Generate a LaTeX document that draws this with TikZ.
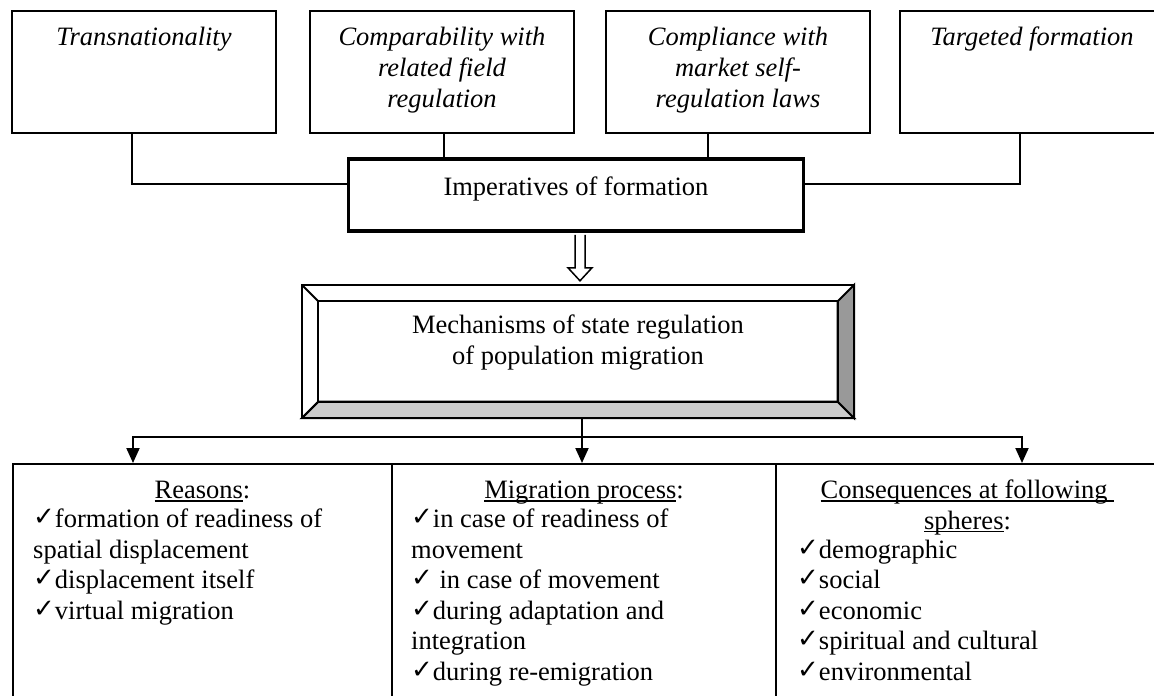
\documentclass[tikz,border=0pt]{standalone}
\usepackage{fontspec}
\setmainfont{Liberation Serif}
\newfontfamily\symfont{DejaVu Sans}
\usetikzlibrary{arrows.meta,calc}

% check mark bullet
\newcommand\chk{{\symfont\fontsize{26}{26}\selectfont\raisebox{2pt}{✓}}}
% underline set at a fixed depth below the baseline
\newsavebox\ulbox
\newcommand\undl[1]{\sbox\ulbox{#1}\rlap{\rule[-3.2pt]{\wd\ulbox}{1.5pt}}\usebox\ulbox}

\begin{document}
\begin{tikzpicture}[x=1pt,y=-1pt,
  topbox/.style={draw, line width=1.8pt, minimum width=264pt, minimum height=121.5pt, inner sep=0pt},
  toptext/.style={font=\fontsize{26.5}{31}\selectfont\itshape, align=center, anchor=north, inner sep=0pt},
  impbox/.style={draw, line width=3.5pt, minimum width=455pt, minimum height=72pt, inner sep=0pt,
    font=\fontsize{26.5}{31}\selectfont, text height=12pt, text depth=12pt},
  midtext/.style={font=\fontsize{26.5}{31}\selectfont, align=center, anchor=north, inner sep=0pt},
  colbox/.style={draw, line width=2pt, minimum height=237pt, anchor=north west, inner sep=0pt},
  headtext/.style={font=\fontsize{26.5}{30.5}\selectfont, align=center, anchor=north, inner sep=0pt},
  listtext/.style={font=\fontsize{26.5}{30.5}\selectfont, align=left, anchor=north west, inner sep=0pt},
  link/.style={line width=1.8pt},
  arr/.style={line width=2pt, -{Triangle[width=13pt,length=15pt]}},
  bevel/.style={line width=2pt, line join=miter}
]
\useasboundingbox (0,0) rectangle (1154,696);
\fill[white] (0,0) rectangle (1154,696);
\clip (0,0) rectangle (1154,696);

% upper row of principles
\node[topbox] (t1) at (144,72) {};
\node[topbox] (t2) at (442,72) {};
\node[topbox] (t3) at (738,72) {};
\node[topbox] (t4) at (1032,72) {};
\node[toptext] (t1txt) at ($(t1.north)+(0,13.6)$) {\strut Transnationality};
\node[toptext] (t2txt) at ($(t2.north)+(0,13.6)$) {\strut Comparability with\\related field\\regulation};
\node[toptext] (t3txt) at ($(t3.north)+(0,13.6)$) {\strut Compliance with\\market self-\\regulation laws};
\node[toptext] (t4txt) at ($(t4.north)+(0,13.6)$) {\strut Targeted formation};

% imperatives
\node[impbox] (imp) at (576,195.2) {Imperatives of formation};

\draw[link] ([xshift=-12pt]t1.south) |- ([yshift=11pt]imp.west);
\coordinate (c2top) at ([xshift=2pt]t2.south);
\draw[link] (c2top) -- (c2top |- imp.north);
\coordinate (c3top) at ([xshift=-30pt]t3.south);
\draw[link] (c3top) -- (c3top |- imp.north);
\draw[link] ([xshift=-12pt]t4.south) |- ([yshift=11pt]imp.east);

% bevelled box of mechanisms
\node[minimum width=552pt, minimum height=133pt, inner sep=0pt] (mech) at (578,351.5) {};
\coordinate (inw) at ($(mech.north west)+(16.5,16.5)$);
\coordinate (ine) at ($(mech.north east)+(-16.5,16.5)$);
\coordinate (isw) at ($(mech.south west)+(16.5,-16.5)$);
\coordinate (ise) at ($(mech.south east)+(-16.5,-16.5)$);
\fill[white] (mech.north west) rectangle (mech.south east);
\filldraw[bevel, fill=gray!40] (mech.south west) -- (mech.south east) -- (ise) -- (isw) -- cycle;
\filldraw[bevel, fill=gray!80] (mech.north east) -- (mech.south east) -- (ise) -- (ine) -- cycle;
\draw[bevel] (mech.north west) rectangle (mech.south east);
\draw[bevel] (inw) rectangle (ise);
\draw[bevel] (mech.north west) -- (inw);
\draw[bevel] (mech.south west) -- (isw);
\node[midtext] (mechtxt) at (578,311.3) {\strut Mechanisms of state regulation\\of population migration};

% hollow arrow from imperatives to mechanisms
\coordinate (hs) at ([xshift=4pt]imp.south);
\coordinate (tip) at ($(mech.north)+(2,-4)$);
\draw[line width=1.5pt, fill=white, line join=miter]
  ($(hs)+(-5,2)$) -- ($(tip)+(-5,-13)$) -- ($(tip)+(-12,-13)$) -- (tip)
  -- ($(tip)+(12,-13)$) -- ($(tip)+(5,-13)$) -- ($(hs)+(5,2)$);

% lower row
\node[colbox, minimum width=379pt] (c1) at (12,463) {};
\node[colbox, minimum width=384pt] (c2) at (391,463) {};
\node[colbox, minimum width=383pt] (c3) at (775,463) {};

\coordinate (drop) at ([xshift=4pt]mech.south);
\coordinate (split) at ([xshift=4pt,yshift=-19pt]mech.south);
\draw[arr] (drop) -- (drop |- c2.north);
\draw[arr] (split) -| ([xshift=-69.5pt]c1.north);
\draw[arr] (split) -| ([xshift=54.5pt]c3.north);

\node[headtext] (h1) at ($(c1.north)+(0,14.2)$) {\strut\undl{Reasons}:};
\node[headtext] (h2) at ($(c2.north)+(0,14.2)$) {\strut\undl{Migration process}:};
\node[headtext] (h3) at ($(c3.north)+(0,14.2)$) {\strut\undl{Consequences at following\ }\\\undl{spheres}:};

\node[listtext] (l1) at ($(c1.north west)+(21,43.2)$)
  {\strut\chk formation of readiness of\\spatial displacement\\\chk displacement itself\\\chk virtual migration};
\node[listtext] (l2) at ($(c2.north west)+(20,43.2)$)
  {\strut\chk in case of readiness of\\movement\\\chk\ in case of movement\\\chk during adaptation and\\integration\\\chk during re-emigration};
\node[listtext] (l3) at ($(c3.north west)+(22,73.7)$)
  {\strut\chk demographic\\\chk social\\\chk economic\\\chk spiritual and cultural\\\chk environmental};
\end{tikzpicture}
\end{document}
